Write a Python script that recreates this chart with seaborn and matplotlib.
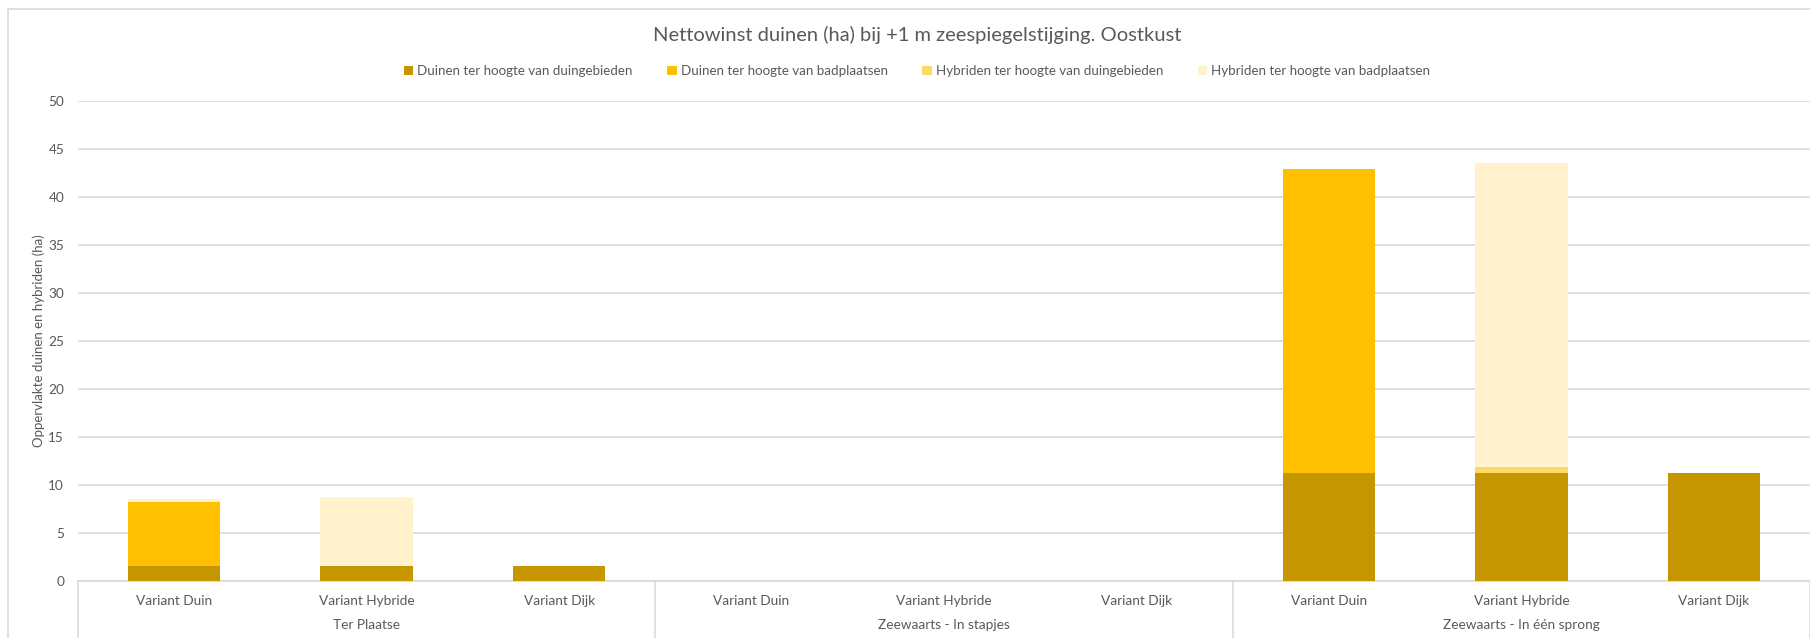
#Net gain of dunes chart (Oostkust, +1 m sea level):
import pandas as pd
import numpy as np
import matplotlib
matplotlib.use("Agg")
import matplotlib.pyplot as plt
from matplotlib.patches import Patch
from matplotlib.lines import Line2D
import seaborn as sns

#Step1: Data:-
groups = ["Ter Plaatse", "Zeewaarts - In stapjes", "Zeewaarts - In één sprong"]
variants = ["Variant Duin", "Variant Hybride", "Variant Dijk"]

series_names = ["Duinen ter hoogte van duingebieden",
                "Duinen ter hoogte van badplaatsen",
                "Hybriden ter hoogte van duingebieden",
                "Hybriden ter hoogte van badplaatsen"]

duinen_duingebieden = [1.6, 1.6, 1.6, 0, 0, 0, 11.3, 11.3, 11.3]
duinen_badplaatsen = [6.6, 0, 0, 0, 0, 0, 31.6, 0, 0]
hybriden_duingebieden = [0, 0, 0, 0, 0, 0, 0, 0.6, 0]
hybriden_badplaatsen = [0.35, 7.1, 0, 0, 0, 0, 0, 31.6, 0]

colors = ["#C59600", "#FFC000", "#FFD966", "#FFF2CC"]

#Step2: Build table:-
cat_labels = [g + "|" + v for g in groups for v in variants]
df = pd.DataFrame({
    "cat": cat_labels,
    series_names[0]: duinen_duingebieden,
    series_names[1]: duinen_badplaatsen,
    series_names[2]: hybriden_duingebieden,
    series_names[3]: hybriden_badplaatsen,
})
cum = df[series_names].cumsum(axis=1)

#Step3: Plot:-
sns.set_style("white")
plt.rcParams["font.family"] = ["Lato", "DejaVu Sans"]
text_col = "#595959"
grid_col = "#D9D9D9"

fig = plt.figure(figsize=(18.10, 6.38), dpi=100)
ax = fig.add_axes([78 / 1810, 57 / 638, 1 - 78 / 1810, 480 / 638])

# stacked bars: draw cumulative totals from top layer down
for i in range(len(series_names) - 1, -1, -1):
    sns.barplot(x=df["cat"], y=cum[series_names[i]], order=cat_labels,
                color=colors[i], width=0.48, saturation=1, ax=ax,
                linewidth=0, zorder=3)

ax.set_ylim(0, 50)
ax.set_xlim(-0.5, 8.5)
ax.set_yticks(np.arange(0, 51, 5))
ax.yaxis.grid(True, color=grid_col, linewidth=1.2, zorder=0)
ax.set_axisbelow(True)
for s in ["top", "right", "left"]:
    ax.spines[s].set_visible(False)
ax.spines["bottom"].set_color(grid_col)
ax.spines["bottom"].set_linewidth(1.2)
ax.tick_params(axis="y", length=0, pad=10, labelsize=9.8, labelcolor=text_col)
ax.tick_params(axis="x", length=0, pad=10, labelsize=9.8, labelcolor=text_col)
ax.set_xticks(range(len(cat_labels)))
ax.set_xticklabels([v for g in groups for v in variants])
ax.set_xlabel("")
ax.set_ylabel("Oppervlakte duinen en hybriden (ha)", fontsize=9.5, color=text_col, labelpad=2)

# group labels + separators
for k, g in enumerate(groups):
    ax.text(3 * k + 1, -0.092, g, transform=ax.get_xaxis_transform(),
            ha="center", va="center", fontsize=9.8, color=text_col)
for xs in [-0.5, 2.5, 5.5, 8.5]:
    ax.add_line(Line2D([xs, xs], [0, -0.2], transform=ax.get_xaxis_transform(),
                       color=grid_col, linewidth=1.2, clip_on=False))

# chart border (left and top, rest is cut off)
fig.add_artist(Line2D([8 / 1810, 1], [1 - 9 / 638, 1 - 9 / 638], color=grid_col, linewidth=1.2))
fig.add_artist(Line2D([8 / 1810, 8 / 1810], [0, 1 - 9 / 638], color=grid_col, linewidth=1.2))

fig.text(917 / 1810, 1 - 35 / 638, "Nettowinst duinen (ha) bij +1 m zeespiegelstijging. Oostkust",
         ha="center", va="center", fontsize=14.5, color=text_col)

handles = [Patch(facecolor=c, edgecolor="none") for c in colors]
fig.legend(handles, series_names, loc="center", bbox_to_anchor=(917 / 1810, 1 - 71 / 638),
           ncol=4, frameon=False, fontsize=9.6, labelcolor=text_col,
           handlelength=0.7, handleheight=0.7, handletextpad=0.3, columnspacing=2.6)

fig.savefig("out.png", dpi=100)
